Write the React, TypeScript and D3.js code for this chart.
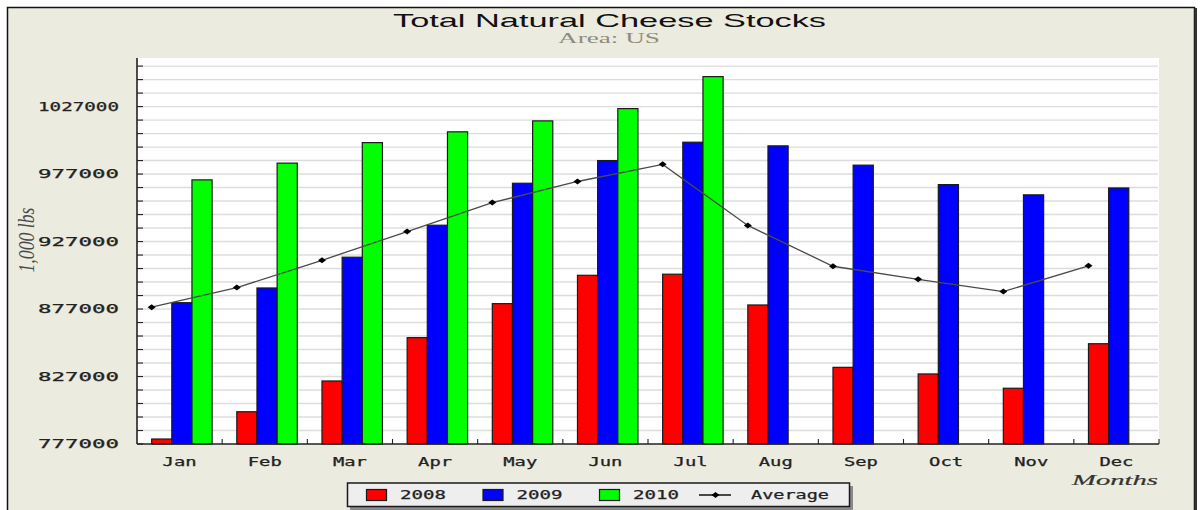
import React from 'react';
import * as d3 from 'd3';

const months = ['Jan', 'Feb', 'Mar', 'Apr', 'May', 'Jun', 'Jul', 'Aug', 'Sep', 'Oct', 'Nov', 'Dec'];
const stocks2008 = [780700, 800900, 823700, 855800, 881000, 902000, 902800, 880000, 833800, 828900, 818300, 851300];
const stocks2009 = [881700, 892600, 915400, 939100, 970200, 987000, 1000600, 997900, 983600, 969200, 961600, 966700];
const stocks2010 = [972700, 985100, 1000300, 1008300, 1016400, 1025500, 1049200, null, null, null, null, null];
const seriesNames = ['2008', '2009', '2010'];
const seriesColors = ['#ff0000', '#0000ff', '#00ff00'];
const yLabels = [777000, 827000, 877000, 927000, 977000, 1027000];

const W = 1200;
const H = 510;
const margin = { left: 137, right: 41, top: 58, bottom: 66 };
const mono = '"DejaVu Sans Mono", monospace';

const App = () => {
  const series = [stocks2008, stocks2009, stocks2010];
  const x0 = d3.scaleBand().domain(months).range([margin.left, W - margin.right]);
  const bw = x0.bandwidth();
  const x1 = d3.scaleBand().domain(seriesNames).range([bw * 0.172, bw * 0.172 + bw * 0.71]);
  const y = d3.scaleLinear().domain([777000, 1063000]).range([H - margin.bottom, margin.top]);
  const minor = d3.range(777000, 1063000, 10000);

  // average of whatever years exist for the month
  const avg = months.map((m, i) => {
    const vals = series.map(s => s[i]).filter(v => v != null);
    return { m, v: d3.mean(vals) };
  });
  const line = d3.line()
    .x(d => x0(d.m) + bw * 0.172)
    .y(d => y(d.v));

  const diamond = (cx, cy, key) => (
    <path key={key} d={`M${cx - 4},${cy} L${cx},${cy - 3} L${cx + 4},${cy} L${cx},${cy + 3} Z`} fill="#000" />
  );

  const legendY = 495;
  const legendItems = [366.5, 483, 599.5];
  const txt = { fontFamily: mono, fontSize: 11.5, fill: '#222', stroke: '#222', strokeWidth: 0.25 };

  return (
    <svg width={W} height={H} style={{ position: 'absolute', left: 0, top: 0, background: '#fff' }}>
      {/* frame */}
      <rect x={7.5} y={7.5} width={1187} height={530} fill="#ecebdf" stroke="#111" strokeWidth={1.5} />
      <rect x={1194.5} y={8} width={2.5} height={510} fill="#333" />

      {/* titles */}
      <text x={609.5} y={26.5} textAnchor="middle" fontFamily="'Liberation Sans', Arial, sans-serif" fontSize={18.5}
        fill="#111" textLength={433} lengthAdjust="spacingAndGlyphs">Total Natural Cheese Stocks</text>
      <text x={609} y={43} textAnchor="middle" fontFamily="'Liberation Serif', serif" fontSize={14.5}
        fill="#8d8c7d" textLength={102} lengthAdjust="spacingAndGlyphs">Area: US</text>

      {/* plot area */}
      <rect x={margin.left} y={margin.top} width={W - margin.right - margin.left} height={H - margin.bottom - margin.top} fill="#fff" />
      {minor.slice(1).map(v => (
        <line key={v} x1={margin.left} x2={W - margin.right - 1} y1={y(v)} y2={y(v)} stroke="#dcdcdc" strokeWidth={1.4} />
      ))}

      {/* bars */}
      {months.map((m, i) => (
        <g key={m}>
          {series.map((s, j) => s[i] == null ? null : (
            <rect key={j} x={x0(m) + x1(seriesNames[j])} y={y(s[i])} width={x1.bandwidth()}
              height={y(777000) - y(s[i])} fill={seriesColors[j]} stroke="#1a1a1a" strokeWidth={1.2} />
          ))}
        </g>
      ))}

      {/* average */}
      <path d={line(avg)} fill="none" stroke="#4a4a4a" strokeWidth={1.3} />
      {avg.map((d, i) => diamond(x0(d.m) + bw * 0.172, y(d.v), i))}

      {/* y axis */}
      <line x1={margin.left} x2={margin.left} y1={margin.top} y2={y(777000)} stroke="#222" strokeWidth={1.6} />
      {minor.map(v => (
        <line key={v} x1={margin.left} x2={margin.left + 6} y1={y(v)} y2={y(v)} stroke="#222" strokeWidth={1.1} />
      ))}
      {yLabels.map(v => (
        <text key={v} x={119} y={y(v)} dy="0.35em" textAnchor="end" {...txt}
          textLength={81} lengthAdjust="spacingAndGlyphs">{v}</text>
      ))}
      <text transform={`translate(34,240) rotate(-90) scale(1,1.4)`} textAnchor="middle" fontFamily="'Liberation Serif', serif"
        fontStyle="italic" fontSize={17} fill="#4a4a4a" textLength={65} lengthAdjust="spacingAndGlyphs">1,000 lbs</text>

      {/* x axis */}
      <line x1={margin.left} x2={W - margin.right} y1={y(777000)} y2={y(777000)} stroke="#222" strokeWidth={1.6} />
      {months.map(m => (
        <line key={m} x1={x0(m) + bw} x2={x0(m) + bw} y1={y(777000)} y2={y(777000) - 5} stroke="#222" strokeWidth={1.1} />
      ))}
      {months.map(m => (
        <text key={m} x={x0(m) + bw / 2} y={462} dy="0.35em" textAnchor="middle" {...txt}
          textLength={34} lengthAdjust="spacingAndGlyphs">{m}</text>
      ))}
      <text x={1158} y={485} textAnchor="end" fontFamily="'Liberation Serif', serif" fontStyle="italic" fontSize={15.5}
        fill="#333" stroke="#333" strokeWidth={0.2} textLength={86} lengthAdjust="spacingAndGlyphs">Months</text>

      {/* legend */}
      <rect x={350} y={486} width={503} height={24} fill="#8a8a8a" />
      <rect x={347.5} y={483} width={502} height={23.5} fill="#eeeeee" stroke="#1a1a1a" strokeWidth={1.5} />
      {seriesNames.map((n, j) => (
        <g key={n}>
          <rect x={legendItems[j]} y={489.5} width={20} height={11} fill={seriesColors[j]} stroke="#1a1a1a" strokeWidth={1.2} />
          <text x={legendItems[j] + 33.5} y={legendY} dy="0.35em" {...txt}
            textLength={46} lengthAdjust="spacingAndGlyphs">{n}</text>
        </g>
      ))}
      <line x1={699} x2={731} y1={legendY} y2={legendY} stroke="#111" strokeWidth={1.5} />
      {diamond(715.5, legendY, 'lg')}
      <text x={751} y={legendY} dy="0.35em" {...txt}
        textLength={78} lengthAdjust="spacingAndGlyphs">Average</text>
    </svg>
  );
};

export default App;
